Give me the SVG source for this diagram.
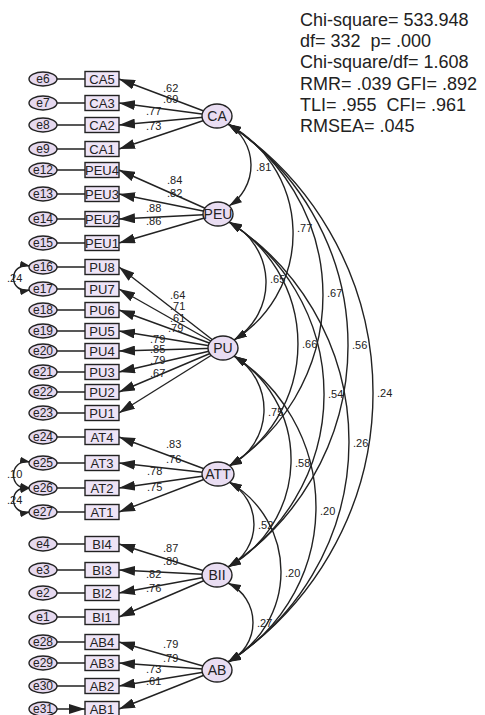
<svg xmlns="http://www.w3.org/2000/svg" width="485" height="715" viewBox="0 0 485 715">
<style>
text{font-family:"Liberation Sans",Arial,sans-serif;fill:#222}
.lat{fill:#e9ddf2;stroke:#222;stroke-width:1.4}
.box{fill:#eee4f6;stroke:#222;stroke-width:1.4}
.err{fill:#e6d9ef;stroke:#222;stroke-width:1.4}
.ln{fill:none;stroke:#222;stroke-width:1.4;marker-end:url(#a)}
.cv{fill:none;stroke:#222;stroke-width:1.4;marker-start:url(#c);marker-end:url(#c)}
.ce{fill:none;stroke:#222;stroke-width:1.4;marker-start:url(#c2);marker-end:url(#c2)}
.lt{font-size:14px;text-anchor:middle}
.bt{font-size:13px;text-anchor:middle}
.et{font-size:12px;text-anchor:middle}
.lb{font-size:11px;fill:#333}
.st{font-size:18px;white-space:pre}
</style>
<defs>
<marker id="a" markerUnits="userSpaceOnUse" markerWidth="16" markerHeight="10" refX="16" refY="5" orient="auto"><path d="M0,0 L16,5 L0,10 z" fill="#222"/></marker>
<marker id="c" markerUnits="userSpaceOnUse" markerWidth="13" markerHeight="8" refX="13" refY="4" orient="auto-start-reverse"><path d="M0,0 L13,4 L0,8 z" fill="#222"/></marker>
<marker id="c2" markerUnits="userSpaceOnUse" markerWidth="10" markerHeight="7" refX="10" refY="3.5" orient="auto-start-reverse"><path d="M0,0 L10,3.5 L0,7 z" fill="#222"/></marker>
</defs>

<g id="connectors">
<!-- error to indicator -->
<path class="ln" d="M57,79H85M57,103H85M57,125H85M57,149H85M57,170H85M57,194H85M57,219H85M57,243H85M57,267H85M57,289H85M57,310H85M57,331H85M57,351H85M57,372H85M57,392H85M57,413H85M57,437H85M57,463H85M57,488H85M57,512H85M57,544H85M57,570H85M57,593H85M57,617H85M57,642H85M57,663H85M57,686H85M57,709H85"/>
<!-- loadings -->
<path class="ln" d="M217,116L119,79"/><path class="ln" d="M217,116L119,103"/><path class="ln" d="M217,116L119,125"/><path class="ln" d="M217,116L119,149"/>
<path class="ln" d="M218,214L119,170"/><path class="ln" d="M218,214L119,194"/><path class="ln" d="M218,214L119,219"/><path class="ln" d="M218,214L119,243"/>
<path class="ln" d="M223,348L119,267"/><path class="ln" d="M223,348L119,289"/><path class="ln" d="M223,348L119,310"/><path class="ln" d="M223,348L119,331"/><path class="ln" d="M223,348L119,351"/><path class="ln" d="M223,348L119,372"/><path class="ln" d="M223,348L119,392"/><path class="ln" d="M223,348L119,413"/>
<path class="ln" d="M218,474L119,437"/><path class="ln" d="M218,474L119,463"/><path class="ln" d="M218,474L119,488"/><path class="ln" d="M218,474L119,512"/>
<path class="ln" d="M217,575L119,544"/><path class="ln" d="M217,575L119,570"/><path class="ln" d="M217,575L119,593"/><path class="ln" d="M217,575L119,617"/>
<path class="ln" d="M217,670L119,642"/><path class="ln" d="M217,670L119,663"/><path class="ln" d="M217,670L119,686"/><path class="ln" d="M217,670L119,709"/>
<!-- factor covariances -->
<path class="cv" d="M228,124A48.6,48.6 0 0 1 229,206"/>
<path class="cv" d="M228,124A125.1,125.1 0 0 1 234,340"/>
<path class="cv" d="M228,124A202,202 0 0 1 229,466"/>
<path class="cv" d="M228,124A264.4,264.4 0 0 1 228,567"/>
<path class="cv" d="M228,124A322,322 0 0 1 228,662"/>
<path class="cv" d="M229,222A67.8,67.8 0 0 1 234,340"/>
<path class="cv" d="M229,222A142.4,142.4 0 0 1 229,466"/>
<path class="cv" d="M229,222A203.5,203.5 0 0 1 228,567"/>
<path class="cv" d="M229,222A261.1,261.1 0 0 1 228,662"/>
<path class="cv" d="M234,356A62.9,62.9 0 0 1 229,466"/>
<path class="cv" d="M234,356A122.8,122.8 0 0 1 228,567"/>
<path class="cv" d="M234,356A180.3,180.3 0 0 1 228,662"/>
<path class="cv" d="M229,482A48.2,48.2 0 0 1 228,567"/>
<path class="cv" d="M229,482A103.4,103.4 0 0 1 228,662"/>
<path class="cv" d="M228,583A43.7,43.7 0 0 1 228,662"/>
<!-- error covariances -->
<path class="ce" d="M30,266C8,262 8,294 30,290"/>
<path class="ce" d="M30,462C8,458 8,492 30,488"/>
<path class="ce" d="M30,488C8,484 8,516 30,512"/>
<!-- labels -->
<g class="lb">
<text x="163" y="92">.62</text><text x="163" y="103">.69</text><text x="146" y="115">.77</text><text x="146" y="130">.73</text>
<text x="167" y="184">.84</text><text x="167" y="197">.82</text><text x="146" y="212">.88</text><text x="146" y="225">.86</text>
<text x="170" y="299">.64</text><text x="170" y="310">.71</text><text x="170" y="322">.61</text><text x="168" y="332">.79</text><text x="150" y="343">.79</text><text x="150" y="353">.85</text><text x="150" y="364">.79</text><text x="150" y="377">.67</text>
<text x="166" y="448">.83</text><text x="166" y="463">.76</text><text x="147" y="475">.78</text><text x="147" y="491">.75</text>
<text x="163" y="552">.87</text><text x="163" y="565">.89</text><text x="146" y="578">.82</text><text x="146" y="592">.76</text>
<text x="163" y="648">.79</text><text x="163" y="662">.79</text><text x="146" y="673">.73</text><text x="146" y="685">.61</text>
<text x="7" y="282">.24</text><text x="7" y="478">.10</text><text x="7" y="504">.24</text>
<text x="256" y="171">.81</text><text x="297" y="232">.77</text><text x="327" y="297">.67</text><text x="352" y="349">.56</text><text x="377" y="397">.24</text>
<text x="270" y="283">.65</text><text x="302" y="348">.66</text><text x="328" y="398">.54</text><text x="353" y="447">.26</text>
<text x="268" y="416">.75</text><text x="295" y="467">.58</text><text x="320" y="515">.20</text>
<text x="258" y="529">.52</text><text x="285" y="577">.20</text><text x="257" y="627">.27</text>
</g>
</g>

<g id="CA"><ellipse class="lat" cx="217" cy="116" rx="15" ry="12"/><text class="lt" x="217" y="121">CA</text></g>
<g id="PEU"><ellipse class="lat" cx="218" cy="214" rx="15" ry="12"/><text class="lt" x="218" y="219">PEU</text></g>
<g id="PU"><ellipse class="lat" cx="223" cy="348" rx="15" ry="12"/><text class="lt" x="223" y="353">PU</text></g>
<g id="ATT"><ellipse class="lat" cx="218" cy="474" rx="16" ry="12"/><text class="lt" x="218" y="479">ATT</text></g>
<g id="BII"><ellipse class="lat" cx="217" cy="575" rx="15" ry="12"/><text class="lt" x="217" y="580">BII</text></g>
<g id="AB"><ellipse class="lat" cx="217" cy="670" rx="15" ry="12"/><text class="lt" x="217" y="675">AB</text></g>

<g id="CA5"><rect class="box" x="85" y="71.5" width="34" height="15"/><text class="bt" x="102" y="84">CA5</text></g>
<g id="CA3"><rect class="box" x="85" y="95.5" width="34" height="15"/><text class="bt" x="102" y="108">CA3</text></g>
<g id="CA2"><rect class="box" x="85" y="117.5" width="34" height="15"/><text class="bt" x="102" y="130">CA2</text></g>
<g id="CA1"><rect class="box" x="85" y="141.5" width="34" height="15"/><text class="bt" x="102" y="154">CA1</text></g>
<g id="PEU4"><rect class="box" x="85" y="162.5" width="34" height="15"/><text class="bt" x="102" y="175">PEU4</text></g>
<g id="PEU3"><rect class="box" x="85" y="186.5" width="34" height="15"/><text class="bt" x="102" y="199">PEU3</text></g>
<g id="PEU2"><rect class="box" x="85" y="211.5" width="34" height="15"/><text class="bt" x="102" y="224">PEU2</text></g>
<g id="PEU1"><rect class="box" x="85" y="235.5" width="34" height="15"/><text class="bt" x="102" y="248">PEU1</text></g>
<g id="PU8"><rect class="box" x="85" y="259.5" width="34" height="15"/><text class="bt" x="102" y="272">PU8</text></g>
<g id="PU7"><rect class="box" x="85" y="281.5" width="34" height="15"/><text class="bt" x="102" y="294">PU7</text></g>
<g id="PU6"><rect class="box" x="85" y="302.5" width="34" height="15"/><text class="bt" x="102" y="315">PU6</text></g>
<g id="PU5"><rect class="box" x="85" y="323.5" width="34" height="15"/><text class="bt" x="102" y="336">PU5</text></g>
<g id="PU4"><rect class="box" x="85" y="343.5" width="34" height="15"/><text class="bt" x="102" y="356">PU4</text></g>
<g id="PU3"><rect class="box" x="85" y="364.5" width="34" height="15"/><text class="bt" x="102" y="377">PU3</text></g>
<g id="PU2"><rect class="box" x="85" y="384.5" width="34" height="15"/><text class="bt" x="102" y="397">PU2</text></g>
<g id="PU1"><rect class="box" x="85" y="405.5" width="34" height="15"/><text class="bt" x="102" y="418">PU1</text></g>
<g id="AT4"><rect class="box" x="85" y="429.5" width="34" height="15"/><text class="bt" x="102" y="442">AT4</text></g>
<g id="AT3"><rect class="box" x="85" y="455.5" width="34" height="15"/><text class="bt" x="102" y="468">AT3</text></g>
<g id="AT2"><rect class="box" x="85" y="480.5" width="34" height="15"/><text class="bt" x="102" y="493">AT2</text></g>
<g id="AT1"><rect class="box" x="85" y="504.5" width="34" height="15"/><text class="bt" x="102" y="517">AT1</text></g>
<g id="BI4"><rect class="box" x="85" y="536.5" width="34" height="15"/><text class="bt" x="102" y="549">BI4</text></g>
<g id="BI3"><rect class="box" x="85" y="562.5" width="34" height="15"/><text class="bt" x="102" y="575">BI3</text></g>
<g id="BI2"><rect class="box" x="85" y="585.5" width="34" height="15"/><text class="bt" x="102" y="598">BI2</text></g>
<g id="BI1"><rect class="box" x="85" y="609.5" width="34" height="15"/><text class="bt" x="102" y="622">BI1</text></g>
<g id="AB4"><rect class="box" x="85" y="634.5" width="34" height="15"/><text class="bt" x="102" y="647">AB4</text></g>
<g id="AB3"><rect class="box" x="85" y="655.5" width="34" height="15"/><text class="bt" x="102" y="668">AB3</text></g>
<g id="AB2"><rect class="box" x="85" y="678.5" width="34" height="15"/><text class="bt" x="102" y="691">AB2</text></g>
<g id="AB1"><rect class="box" x="85" y="701.5" width="34" height="15"/><text class="bt" x="102" y="714">AB1</text></g>

<g id="e6"><ellipse class="err" cx="43" cy="79" rx="14" ry="7"/><text class="et" x="43" y="83">e6</text></g>
<g id="e7"><ellipse class="err" cx="43" cy="103" rx="14" ry="7"/><text class="et" x="43" y="107">e7</text></g>
<g id="e8"><ellipse class="err" cx="43" cy="125" rx="14" ry="7"/><text class="et" x="43" y="129">e8</text></g>
<g id="e9"><ellipse class="err" cx="43" cy="149" rx="14" ry="7"/><text class="et" x="43" y="153">e9</text></g>
<g id="e12"><ellipse class="err" cx="43" cy="170" rx="14" ry="7"/><text class="et" x="43" y="174">e12</text></g>
<g id="e13"><ellipse class="err" cx="43" cy="194" rx="14" ry="7"/><text class="et" x="43" y="198">e13</text></g>
<g id="e14"><ellipse class="err" cx="43" cy="219" rx="14" ry="7"/><text class="et" x="43" y="223">e14</text></g>
<g id="e15"><ellipse class="err" cx="43" cy="243" rx="14" ry="7"/><text class="et" x="43" y="247">e15</text></g>
<g id="e16"><ellipse class="err" cx="43" cy="267" rx="14" ry="7"/><text class="et" x="43" y="271">e16</text></g>
<g id="e17"><ellipse class="err" cx="43" cy="289" rx="14" ry="7"/><text class="et" x="43" y="293">e17</text></g>
<g id="e18"><ellipse class="err" cx="43" cy="310" rx="14" ry="7"/><text class="et" x="43" y="314">e18</text></g>
<g id="e19"><ellipse class="err" cx="43" cy="331" rx="14" ry="7"/><text class="et" x="43" y="335">e19</text></g>
<g id="e20"><ellipse class="err" cx="43" cy="351" rx="14" ry="7"/><text class="et" x="43" y="355">e20</text></g>
<g id="e21"><ellipse class="err" cx="43" cy="372" rx="14" ry="7"/><text class="et" x="43" y="376">e21</text></g>
<g id="e22"><ellipse class="err" cx="43" cy="392" rx="14" ry="7"/><text class="et" x="43" y="396">e22</text></g>
<g id="e23"><ellipse class="err" cx="43" cy="413" rx="14" ry="7"/><text class="et" x="43" y="417">e23</text></g>
<g id="e24"><ellipse class="err" cx="43" cy="437" rx="14" ry="7"/><text class="et" x="43" y="441">e24</text></g>
<g id="e25"><ellipse class="err" cx="43" cy="463" rx="14" ry="7"/><text class="et" x="43" y="467">e25</text></g>
<g id="e26"><ellipse class="err" cx="43" cy="488" rx="14" ry="7"/><text class="et" x="43" y="492">e26</text></g>
<g id="e27"><ellipse class="err" cx="43" cy="512" rx="14" ry="7"/><text class="et" x="43" y="516">e27</text></g>
<g id="e4"><ellipse class="err" cx="43" cy="544" rx="14" ry="7"/><text class="et" x="43" y="548">e4</text></g>
<g id="e3"><ellipse class="err" cx="43" cy="570" rx="14" ry="7"/><text class="et" x="43" y="574">e3</text></g>
<g id="e2"><ellipse class="err" cx="43" cy="593" rx="14" ry="7"/><text class="et" x="43" y="597">e2</text></g>
<g id="e1"><ellipse class="err" cx="43" cy="617" rx="14" ry="7"/><text class="et" x="43" y="621">e1</text></g>
<g id="e28"><ellipse class="err" cx="43" cy="642" rx="14" ry="7"/><text class="et" x="43" y="646">e28</text></g>
<g id="e29"><ellipse class="err" cx="43" cy="663" rx="14" ry="7"/><text class="et" x="43" y="667">e29</text></g>
<g id="e30"><ellipse class="err" cx="43" cy="686" rx="14" ry="7"/><text class="et" x="43" y="690">e30</text></g>
<g id="e31"><ellipse class="err" cx="43" cy="709" rx="14" ry="7"/><text class="et" x="43" y="713">e31</text></g>

<g id="fit">
<text class="st" x="300" y="26">Chi-square= 533.948</text>
<text class="st" x="300" y="47">df= 332  p= .000</text>
<text class="st" x="300" y="68">Chi-square/df= 1.608</text>
<text class="st" x="300" y="90">RMR= .039 GFI= .892</text>
<text class="st" x="300" y="111">TLI= .955  CFI= .961</text>
<text class="st" x="300" y="132">RMSEA= .045</text>
</g>
</svg>
